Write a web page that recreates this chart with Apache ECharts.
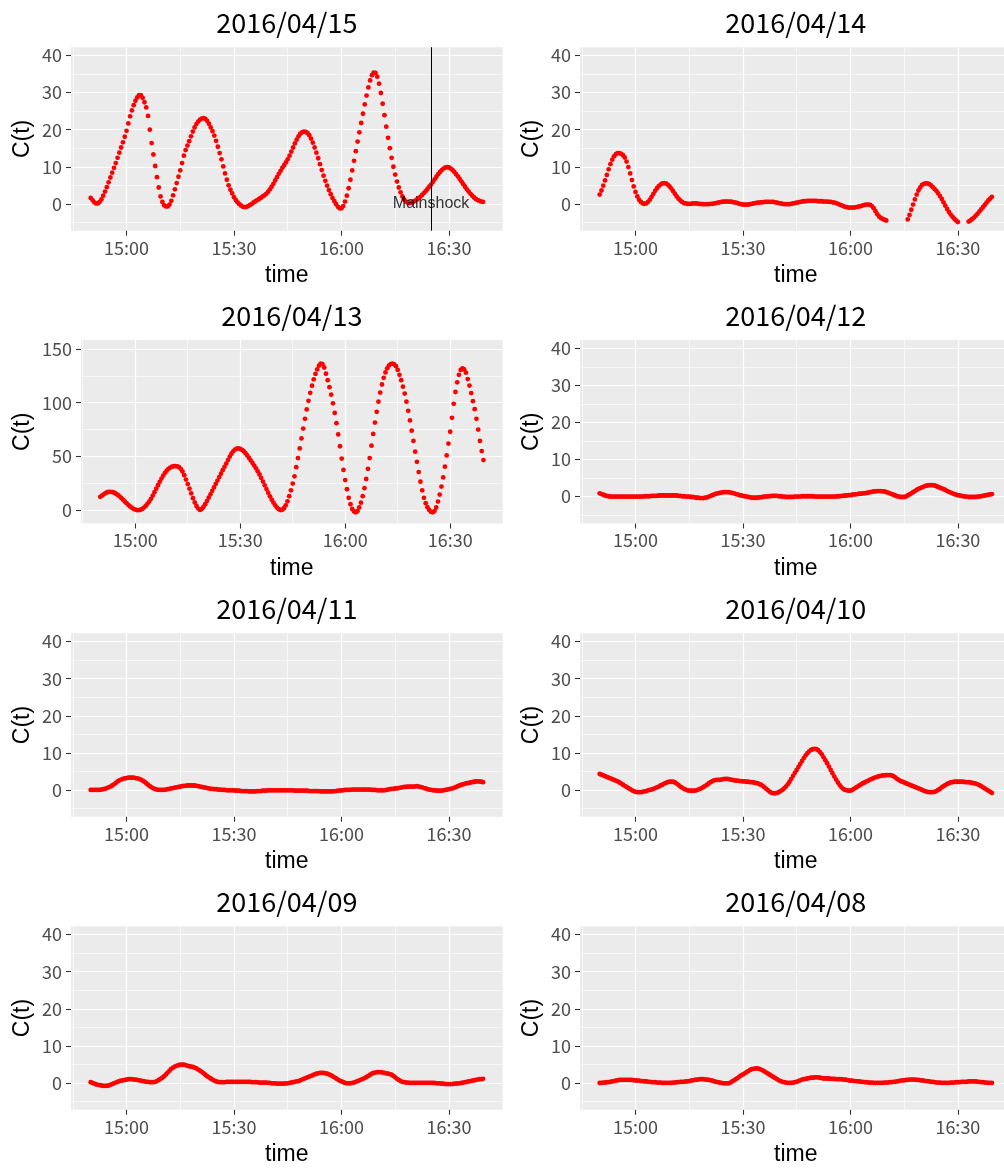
<!DOCTYPE html>
<html><head><meta charset="utf-8">
<script src="https://cdn.jsdelivr.net/npm/echarts@6/dist/echarts.min.js"></script>
<style>html,body{margin:0;padding:0;background:#fff}#c{width:1004px;height:1168px}</style>
</head><body><div id="c"></div>
<script>
// ---------- data ----------
const panelTitles = ['2016/04/15','2016/04/14','2016/04/13','2016/04/12','2016/04/11','2016/04/10','2016/04/09','2016/04/08'];
const sampleStart = 890;   // 14:50 (minutes of day)
const sampleStep = 0.5;    // 30 s between samples
const xTickValues = [900, 930, 960, 990];
const yTicksSmall = [0, 10, 20, 30, 40];
const yTicksBig = [0, 50, 100, 150];
const mainshockTime = 985; // 16:25
const mainshockLabel = 'Mainshock';

const d0415 = [1.6,1.0,0.4,0.1,0.1,0.5,1.2,2.2,3.3,4.5,
5.8,7.1,8.4,9.7,11.0,12.4,13.8,15.2,16.6,18.1,
19.7,21.7,23.6,25.2,26.6,27.8,28.7,29.3,29.3,28.6,
27.4,26.0,23.7,20.0,16.4,13.3,10.2,7.2,4.4,2.0,
0.5,-0.4,-0.7,-0.7,-0.2,0.8,2.3,3.9,5.6,7.3,
9.0,11.0,13.0,14.5,15.7,16.9,18.2,19.5,20.6,21.5,
22.2,22.7,23.0,23.1,22.9,22.4,21.6,20.6,19.6,18.4,
17.0,15.4,13.7,12.0,10.1,8.2,6.5,5.0,3.8,2.8,
1.8,1.0,0.4,-0.1,-0.5,-0.8,-0.9,-0.8,-0.6,-0.3,
0.0,0.4,0.7,1.0,1.3,1.6,2.0,2.3,2.7,3.2,
3.9,4.6,5.4,6.3,7.2,8.1,8.9,9.7,10.4,11.2,
12.0,13.0,14.1,15.2,16.3,17.3,18.2,18.9,19.3,19.5,
19.4,19.1,18.5,17.6,16.5,15.2,13.8,12.3,10.7,9.1,
7.6,6.2,4.9,3.7,2.6,1.6,0.7,-0.1,-0.8,-1.2,
-1.2,-0.6,0.6,2.2,4.2,6.5,9.0,11.6,14.2,16.8,
19.3,21.8,24.3,26.8,29.2,31.4,33.3,34.7,35.4,35.3,
34.3,32.4,29.9,27.0,23.9,20.8,17.8,15.0,12.4,10.0,
7.9,6.0,4.4,3.1,2.0,1.2,0.6,0.3,0.2,0.3,
0.5,0.8,1.1,1.5,1.9,2.4,2.9,3.4,4.0,4.6,
5.2,5.9,6.6,7.3,8.0,8.6,9.1,9.5,9.8,9.9,
9.8,9.5,9.1,8.6,8.0,7.4,6.7,6.0,5.3,4.6,
3.9,3.3,2.7,2.2,1.7,1.3,1.0,0.8,0.6,0.5];

const d0414 = [2.5,3.6,4.9,6.3,7.8,9.3,10.7,11.9,12.8,13.4,
13.7,13.7,13.5,13.1,12.5,11.4,9.9,8.2,6.4,4.7,
3.2,2.0,1.1,0.5,0.1,0.0,0.1,0.5,1.1,1.9,
2.7,3.5,4.2,4.8,5.2,5.5,5.6,5.5,5.2,4.7,
4.1,3.4,2.7,2.0,1.4,0.9,0.5,0.2,0.1,0.0,
0.0,0.0,0.1,0.1,0.1,0.0,0.0,-0.1,-0.1,-0.1,
-0.1,-0.1,0.0,0.0,0.1,0.2,0.3,0.4,0.5,0.6,
0.6,0.6,0.6,0.6,0.5,0.4,0.3,0.2,0.0,-0.1,
-0.2,-0.2,-0.2,-0.2,-0.1,0.0,0.1,0.2,0.3,0.3,
0.4,0.4,0.5,0.5,0.5,0.5,0.5,0.5,0.4,0.3,
0.2,0.1,0.0,-0.1,-0.1,-0.1,-0.1,0.0,0.1,0.2,
0.3,0.4,0.5,0.6,0.7,0.7,0.8,0.8,0.8,0.8,
0.8,0.8,0.7,0.7,0.7,0.6,0.6,0.6,0.5,0.5,
0.4,0.3,0.2,0.0,-0.2,-0.4,-0.6,-0.8,-0.9,-1.0,
-1.0,-1.0,-1.0,-0.9,-0.8,-0.7,-0.6,-0.4,-0.3,-0.2,
-0.2,-0.3,-0.6,-1.2,-2.0,-2.8,-3.4,-3.8,-4.1,-4.3,
-4.5,null,null,null,null,null,null,null,null,null,
null,null,-4.2,-3.0,-1.6,-0.2,1.2,2.5,3.6,4.4,
5.1,5.4,5.5,5.5,5.3,5.0,4.5,4.0,3.5,2.8,
2.1,1.3,0.4,-0.5,-1.4,-2.2,-2.9,-3.5,-4.0,-4.5,
-4.9,null,null,null,null,null,-4.8,-4.5,-4.1,-3.7,
-3.2,-2.7,-2.1,-1.5,-0.9,-0.3,0.3,0.9,1.4,1.9];

const d0413 = [12.4,13.6,14.8,15.9,16.7,17.1,17.1,16.8,16.2,15.3,
14.2,12.9,11.4,9.8,8.1,6.5,5.0,3.5,2.3,1.3,
0.6,0.1,0.0,0.4,1.2,2.4,4.0,5.9,8.0,10.6,
13.6,16.8,20.0,23.2,26.4,29.4,32.2,34.7,36.8,38.5,
39.7,40.5,40.9,41.0,40.8,40.0,38.5,36.0,32.5,28.5,
24.3,20.0,15.6,11.2,7.2,3.9,1.5,0.2,1.0,3.0,
5.6,8.5,11.6,14.8,18.0,21.2,24.4,27.6,30.8,34.0,
37.2,40.3,43.4,46.6,49.8,52.5,54.8,56.4,57.3,57.4,
57.0,56.2,54.9,53.1,50.9,48.6,46.3,44.0,41.5,39.0,
36.2,33.2,30.0,26.6,23.1,19.6,16.2,12.9,9.8,7.0,
4.5,2.4,0.9,0.1,0.4,1.8,4.5,8.2,13.0,18.5,
24.8,31.5,40.0,48.5,57.5,66.8,76.0,85.0,93.8,101.8,
109.2,115.8,121.8,126.8,131.0,134.5,136.5,136.0,132.8,127.0,
121.0,114.5,107.5,99.5,90.5,81.0,70.5,59.5,48.0,37.5,
28.0,19.5,11.5,5.5,1.2,-1.2,-2.0,-1.0,2.5,7.0,
13.0,20.5,29.0,38.5,48.5,60.0,71.0,81.5,91.5,101.0,
109.5,117.0,123.2,128.2,132.0,134.6,136.0,136.4,135.8,134.0,
130.5,126.0,121.0,115.0,108.5,101.0,92.5,83.5,74.0,64.5,
54.5,45.0,35.5,26.5,18.5,11.5,6.5,2.8,0.2,-1.5,
-2.0,-0.8,2.5,8.0,14.5,22.0,30.5,40.5,51.0,62.0,
73.0,86.0,99.0,110.0,119.0,126.0,130.5,132.0,131.0,128.0,
122.0,116.0,109.0,101.5,94.0,85.0,75.0,64.5,55.0,46.6];

const d0412 = [0.9,0.7,0.5,0.3,0.2,0.1,0.0,0.0,0.0,0.0,
0.0,0.0,0.0,0.0,0.0,0.0,0.0,0.0,0.0,0.0,
0.0,0.0,0.0,0.0,0.0,0.1,0.1,0.1,0.1,0.2,
0.2,0.2,0.2,0.3,0.3,0.3,0.3,0.3,0.3,0.3,
0.3,0.3,0.3,0.3,0.2,0.2,0.1,0.1,0.0,0.0,
0.0,-0.1,-0.1,-0.2,-0.3,-0.3,-0.4,-0.4,-0.4,-0.3,
-0.2,0.0,0.2,0.4,0.6,0.8,0.9,1.0,1.1,1.2,
1.2,1.2,1.2,1.1,1.0,0.9,0.7,0.6,0.4,0.3,
0.2,0.1,0.0,-0.1,-0.2,-0.3,-0.3,-0.3,-0.3,-0.2,
-0.2,-0.1,0.0,0.0,0.1,0.1,0.2,0.2,0.2,0.2,
0.1,0.1,0.0,0.0,-0.1,-0.1,-0.1,-0.1,-0.1,0.0,
0.0,0.0,0.0,0.1,0.1,0.1,0.1,0.1,0.1,0.1,
0.0,0.0,0.0,0.0,0.0,0.0,0.0,0.0,0.0,0.0,
0.0,0.0,0.0,0.1,0.1,0.2,0.2,0.3,0.3,0.4,
0.4,0.5,0.6,0.6,0.7,0.8,0.8,0.9,0.9,1.0,
1.1,1.2,1.3,1.4,1.4,1.5,1.5,1.5,1.4,1.4,
1.2,1.1,0.9,0.7,0.5,0.3,0.1,0.0,-0.1,-0.1,
-0.1,0.0,0.3,0.6,0.9,1.2,1.5,1.8,2.1,2.3,
2.5,2.7,2.9,3.0,3.1,3.1,3.1,3.0,2.8,2.6,
2.4,2.2,2.0,1.8,1.5,1.3,1.1,0.9,0.7,0.5,
0.4,0.3,0.2,0.1,0.0,0.0,-0.1,-0.1,-0.1,-0.1,
-0.1,0.0,0.0,0.1,0.2,0.3,0.4,0.5,0.6,0.7];

const d0411 = [0.0,0.0,0.0,0.0,0.0,0.0,0.1,0.2,0.3,0.5,
0.7,0.9,1.2,1.5,1.9,2.3,2.6,2.8,3.0,3.1,
3.2,3.3,3.3,3.3,3.3,3.2,3.1,3.0,2.8,2.5,
2.2,1.8,1.4,1.0,0.7,0.4,0.2,0.1,0.0,0.0,
0.0,0.0,0.1,0.2,0.3,0.4,0.5,0.6,0.7,0.8,
0.9,1.0,1.1,1.1,1.2,1.2,1.2,1.2,1.2,1.1,
1.0,0.9,0.8,0.7,0.6,0.5,0.4,0.3,0.3,0.2,
0.2,0.1,0.1,0.0,0.0,0.0,-0.1,-0.1,-0.1,-0.1,
-0.1,-0.2,-0.2,-0.2,-0.3,-0.3,-0.3,-0.3,-0.4,-0.4,
-0.4,-0.4,-0.4,-0.3,-0.3,-0.3,-0.2,-0.2,-0.2,-0.1,
-0.1,-0.1,-0.1,-0.1,-0.1,-0.1,-0.1,-0.1,-0.1,-0.1,
-0.1,-0.1,-0.1,-0.1,-0.2,-0.2,-0.2,-0.2,-0.2,-0.2,
-0.2,-0.2,-0.3,-0.3,-0.3,-0.3,-0.3,-0.3,-0.4,-0.4,
-0.4,-0.4,-0.4,-0.4,-0.4,-0.4,-0.3,-0.3,-0.2,-0.2,
-0.1,-0.1,0.0,0.0,0.0,0.0,0.1,0.1,0.1,0.1,
0.1,0.1,0.1,0.1,0.1,0.1,0.1,0.0,0.0,0.0,
-0.1,-0.1,-0.1,-0.1,-0.1,0.0,0.1,0.2,0.3,0.3,
0.4,0.4,0.5,0.6,0.7,0.8,0.8,0.9,0.9,0.9,
0.9,0.9,1.0,0.9,0.8,0.7,0.5,0.4,0.2,0.1,
0.0,-0.1,-0.1,-0.2,-0.2,-0.2,-0.2,-0.1,0.0,0.1,
0.2,0.3,0.4,0.6,0.8,1.0,1.2,1.4,1.5,1.7,
1.8,1.9,2.0,2.1,2.2,2.3,2.3,2.3,2.2,2.1];

const d0410 = [4.3,4.1,3.9,3.7,3.5,3.3,3.1,2.9,2.7,2.5,
2.3,2.0,1.7,1.4,1.1,0.8,0.5,0.2,-0.1,-0.3,
-0.5,-0.6,-0.6,-0.6,-0.5,-0.4,-0.3,-0.1,0.0,0.1,
0.3,0.5,0.7,0.9,1.2,1.4,1.7,1.9,2.1,2.2,
2.2,2.2,2.0,1.7,1.3,0.9,0.6,0.3,0.1,-0.1,
-0.2,-0.2,-0.2,-0.2,-0.1,0.1,0.3,0.5,0.8,1.1,
1.4,1.8,2.1,2.4,2.6,2.7,2.7,2.7,2.8,2.9,
3.0,3.0,2.9,2.8,2.7,2.6,2.5,2.5,2.4,2.4,
2.3,2.3,2.2,2.2,2.1,2.1,2.0,1.9,1.8,1.6,
1.4,1.1,0.7,0.3,-0.1,-0.5,-0.8,-0.9,-0.9,-0.8,
-0.6,-0.3,0.0,0.4,0.9,1.5,2.2,3.0,3.8,4.6,
5.4,6.2,7.0,7.8,8.6,9.3,9.9,10.4,10.8,11.0,
11.1,11.0,10.7,10.2,9.6,8.8,8.0,7.2,6.3,5.4,
4.5,3.6,2.8,2.0,1.3,0.7,0.3,0.0,-0.1,-0.2,
-0.2,0.0,0.3,0.6,0.9,1.2,1.5,1.8,2.0,2.3,
2.5,2.8,3.0,3.2,3.4,3.5,3.7,3.8,3.9,3.9,
4.0,4.0,4.0,3.9,3.7,3.4,3.0,2.7,2.4,2.2,
2.0,1.8,1.6,1.4,1.2,1.0,0.8,0.6,0.4,0.2,
0.0,-0.2,-0.4,-0.5,-0.6,-0.6,-0.6,-0.5,-0.3,0.0,
0.3,0.7,1.0,1.3,1.6,1.8,2.0,2.1,2.2,2.2,
2.2,2.2,2.2,2.2,2.1,2.1,2.1,2.0,1.9,1.8,
1.7,1.5,1.3,1.0,0.7,0.4,0.1,-0.2,-0.5,-0.8];

const d0409 = [0.2,0.0,-0.2,-0.4,-0.5,-0.6,-0.7,-0.8,-0.8,-0.8,
-0.7,-0.5,-0.3,-0.1,0.1,0.3,0.5,0.6,0.7,0.8,
0.9,1.0,1.0,1.0,0.9,0.9,0.8,0.7,0.6,0.5,
0.4,0.3,0.3,0.2,0.2,0.2,0.3,0.5,0.8,1.1,
1.4,1.8,2.3,2.8,3.3,3.8,4.1,4.4,4.6,4.8,
4.9,4.9,4.9,4.8,4.6,4.5,4.4,4.3,4.1,3.9,
3.6,3.3,3.0,2.6,2.2,1.8,1.5,1.2,0.9,0.6,
0.4,0.3,0.2,0.2,0.2,0.2,0.3,0.3,0.3,0.3,
0.3,0.3,0.3,0.3,0.3,0.3,0.3,0.3,0.3,0.3,
0.2,0.2,0.2,0.2,0.1,0.1,0.1,0.1,0.1,0.0,
0.0,-0.1,-0.1,-0.1,-0.2,-0.2,-0.2,-0.2,-0.2,-0.1,
-0.1,0.0,0.1,0.2,0.3,0.4,0.5,0.7,0.9,1.1,
1.3,1.5,1.7,1.9,2.1,2.3,2.5,2.6,2.7,2.7,
2.7,2.6,2.5,2.3,2.1,1.8,1.5,1.2,0.9,0.6,
0.4,0.2,0.0,-0.1,-0.1,-0.1,0.0,0.1,0.3,0.5,
0.7,0.9,1.1,1.3,1.6,1.9,2.2,2.5,2.7,2.8,
2.9,2.9,2.9,2.8,2.7,2.6,2.5,2.4,2.2,1.9,
1.5,1.1,0.8,0.5,0.3,0.2,0.1,0.1,0.0,0.0,
0.0,0.0,0.0,0.0,0.0,0.0,0.0,0.0,0.0,0.0,
0.0,0.0,0.0,-0.1,-0.1,-0.1,-0.2,-0.2,-0.3,-0.3,
-0.3,-0.3,-0.3,-0.2,-0.2,-0.1,-0.1,0.0,0.1,0.2,
0.3,0.4,0.5,0.6,0.7,0.8,0.9,1.0,1.0,1.1];

const d0408 = [0.0,0.0,0.1,0.1,0.2,0.2,0.3,0.4,0.5,0.6,
0.7,0.8,0.8,0.8,0.8,0.8,0.8,0.8,0.8,0.7,
0.7,0.6,0.6,0.5,0.5,0.4,0.4,0.3,0.3,0.2,
0.2,0.2,0.1,0.1,0.1,0.0,0.0,0.0,0.0,0.0,
0.0,0.1,0.1,0.2,0.2,0.3,0.3,0.3,0.4,0.4,
0.5,0.6,0.7,0.8,0.9,0.9,1.0,1.0,1.0,0.9,
0.9,0.8,0.7,0.6,0.4,0.3,0.2,0.1,0.0,-0.1,
-0.1,-0.1,-0.1,0.1,0.4,0.7,1.0,1.3,1.7,2.0,
2.3,2.6,2.9,3.2,3.5,3.7,3.8,3.9,3.9,3.8,
3.6,3.4,3.1,2.8,2.5,2.2,1.9,1.6,1.3,1.0,
0.7,0.5,0.3,0.2,0.1,0.0,0.0,0.0,0.1,0.2,
0.3,0.5,0.7,0.9,1.0,1.1,1.2,1.3,1.4,1.4,
1.5,1.5,1.5,1.4,1.3,1.2,1.2,1.2,1.2,1.1,
1.1,1.1,1.0,1.0,1.0,1.0,0.9,0.9,0.8,0.7,
0.6,0.6,0.5,0.5,0.4,0.4,0.3,0.3,0.2,0.2,
0.1,0.1,0.1,0.0,0.0,0.0,0.0,0.0,0.0,0.1,
0.1,0.1,0.2,0.2,0.3,0.3,0.4,0.5,0.6,0.7,
0.7,0.8,0.8,0.9,0.9,0.9,0.9,0.8,0.8,0.7,
0.7,0.6,0.5,0.5,0.4,0.3,0.3,0.2,0.1,0.1,
0.1,0.0,0.0,0.0,0.0,0.0,0.1,0.1,0.1,0.2,
0.2,0.2,0.3,0.3,0.3,0.3,0.4,0.4,0.4,0.4,
0.4,0.3,0.3,0.2,0.2,0.1,0.1,0.0,0.0,0.0];

// ---------- layout / style ----------
const panelValues = [d0415, d0414, d0413, d0412, d0411, d0410, d0409, d0408];
const rowTops = [47.2, 340, 633.3, 926.3];
const plotH = 183.5;
const xMin = 884.5, xMax = 1005;
const tickFont = 'Noto Sans CJK JP';
const nameFont = 'Liberation Sans';
const tickStyle = {color: '#333333', width: 1.1};

function fmtTime(v) {
  if (Math.abs(v % 30) > 1e-6) return '';
  const h = Math.floor(v / 60), m = Math.round(v - h * 60);
  return h + ':' + (m < 10 ? '0' + m : '' + m);
}

const grids = [], xAxes = [], yAxes = [], series = [], graphics = [];

panelValues.forEach((vals, i) => {
  const col = i % 2, row = Math.floor(i / 2);
  const big = (i === 2);
  const left = col === 0 ? (big ? 81 : 71) : 580;
  const rightEdge = col === 0 ? 502.7 : 1011.6;
  const width = rightEdge - left;
  const top = rowTops[row];
  grids.push({left: left, top: top, width: width, height: plotH, show: true,
    backgroundColor: '#EBEBEB', borderWidth: 0, containLabel: false, outerBoundsMode: 'none'});

  // major x axis: labels, major grid, name
  xAxes.push({type: 'value', gridIndex: i, position: 'bottom', min: xMin, max: xMax,
    minInterval: 30, maxInterval: 30, splitNumber: 4,
    axisLine: {show: false, onZero: false},
    axisTick: {show: false},
    axisLabel: {show: true, customValues: xTickValues, formatter: fmtTime, color: '#4D4D4D',
      fontSize: 18, fontFamily: tickFont, margin: 8},
    splitLine: {show: true, showMinLine: false, showMaxLine: false, lineStyle: {color: '#FFFFFF', width: 1.2}},
    name: 'time', nameLocation: 'middle', nameGap: 45,
    nameTextStyle: {fontFamily: nameFont, fontSize: 23, color: '#000', verticalAlign: 'middle'}
  });
  // minor x grid (shifted by 15 min)
  xAxes.push({type: 'value', gridIndex: i, position: 'top', min: xMin + 15, max: xMax + 15,
    minInterval: 30, maxInterval: 30, splitNumber: 4,
    axisLine: {show: false, onZero: false}, axisTick: {show: false}, axisLabel: {show: false},
    splitLine: {show: true, showMinLine: false, showMaxLine: false, lineStyle: {color: '#FFFFFF', width: 0.6}}
  });
  // x tick marks only
  xAxes.push({type: 'value', gridIndex: i, position: 'bottom', min: xMin, max: xMax,
    minInterval: 30, maxInterval: 30, splitNumber: 4,
    axisLine: {show: false, onZero: false},
    axisTick: {show: true, inside: false, length: 5, customValues: xTickValues, lineStyle: tickStyle},
    axisLabel: {show: false}, splitLine: {show: false}
  });

  const yMin = big ? -12.4 : -7.25, yMax = big ? 158.4 : 42.25, yStep = big ? 50 : 10;
  const yTicks = big ? yTicksBig : yTicksSmall;
  yAxes.push({type: 'value', gridIndex: i, position: 'left', min: yMin, max: yMax,
    minInterval: yStep, maxInterval: yStep, splitNumber: 5,
    axisLine: {show: false, onZero: false},
    axisTick: {show: false},
    axisLabel: {show: true, customValues: yTicks,
      formatter: v => (Math.abs(v % yStep) < 1e-6 ? String(Math.round(v)) : ''),
      color: '#4D4D4D', fontSize: 18, fontFamily: tickFont, margin: 9},
    splitLine: {show: true, showMinLine: false, showMaxLine: false, lineStyle: {color: '#FFFFFF', width: 1.2}},
    name: 'C(t)', nameLocation: 'middle', nameGap: big ? 58 : 48, nameRotate: 90,
    nameTextStyle: {fontFamily: nameFont, fontSize: 23, color: '#000', verticalAlign: 'middle'}
  });
  yAxes.push({type: 'value', gridIndex: i, position: 'right', min: yMin + yStep / 2, max: yMax + yStep / 2,
    minInterval: yStep, maxInterval: yStep, splitNumber: 5,
    axisLine: {show: false, onZero: false}, axisTick: {show: false}, axisLabel: {show: false},
    splitLine: {show: true, showMinLine: false, showMaxLine: false, lineStyle: {color: '#FFFFFF', width: 0.6}}
  });
  // y tick marks only
  yAxes.push({type: 'value', gridIndex: i, position: 'left', offset: 0, min: yMin, max: yMax,
    minInterval: yStep, maxInterval: yStep, splitNumber: 5,
    axisLine: {show: false, onZero: false},
    axisTick: {show: true, inside: false, length: 5, customValues: yTicks, lineStyle: tickStyle},
    axisLabel: {show: false}, splitLine: {show: false}
  });

  const pts = [];
  vals.forEach((v, k) => { if (v !== null) pts.push([sampleStart + k * sampleStep, v]); });
  const s = {type: 'scatter', xAxisIndex: 3 * i, yAxisIndex: 3 * i, data: pts,
    symbol: 'circle', symbolSize: 4.8, itemStyle: {color: '#FF0000', opacity: 1}, silent: true, clip: true, z: 2};
  if (i === 0) {
    s.markLine = {silent: true, symbol: 'none', animation: false, label: {show: false},
      lineStyle: {color: '#000000', width: 1, type: 'solid', opacity: 1},
      emphasis: {disabled: true}, data: [{xAxis: mainshockTime}]};
  }
  series.push(s);
  if (i === 0) {
    series.push({type: 'scatter', xAxisIndex: 0, yAxisIndex: 0, data: [[mainshockTime, 0]],
      symbol: 'circle', symbolSize: 1, itemStyle: {color: 'rgba(0,0,0,0)'}, silent: true, z: 5,
      label: {show: true, position: 'inside', formatter: mainshockLabel, color: '#000',
        fontSize: 16, fontFamily: nameFont}});
  }

  graphics.push({type: 'text', x: left + width / 2, y: top - 24.3, silent: true,
    style: {text: panelTitles[i], fill: '#000', fontSize: 27, fontFamily: tickFont,
      align: 'center', verticalAlign: 'middle'}});
});

const chart = echarts.init(document.getElementById('c'), null, {renderer: 'canvas', devicePixelRatio: 1});
chart.setOption({
  animation: false,
  backgroundColor: '#FFFFFF',
  grid: grids, xAxis: xAxes, yAxis: yAxes, series: series,
  graphic: {elements: graphics}
});
</script></body></html>
